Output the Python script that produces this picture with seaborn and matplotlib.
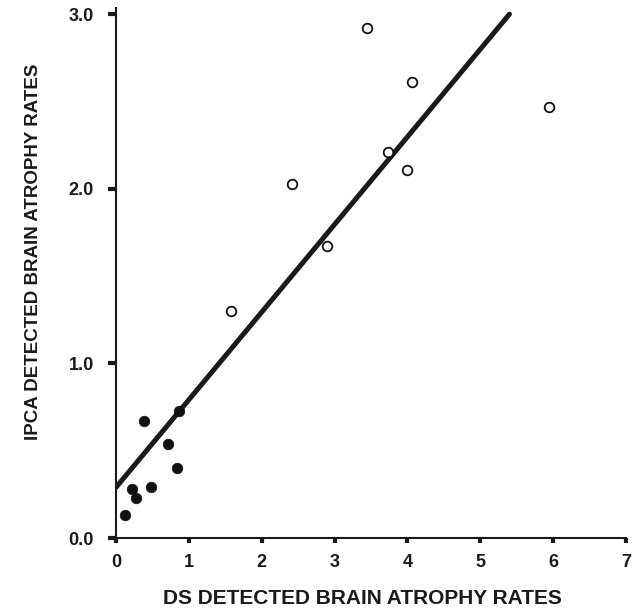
import numpy as np
import pandas as pd
import matplotlib
matplotlib.use("Agg")
import matplotlib.pyplot as plt
import seaborn as sns

# filled dots (low atrophy group)
ds_filled = [0.39, 0.86, 0.72, 0.84, 0.22, 0.27, 0.48, 0.12]
ipca_filled = [0.67, 0.73, 0.54, 0.40, 0.28, 0.23, 0.29, 0.13]

# open dots (high atrophy group)
ds_open = [3.44, 4.06, 5.94, 3.74, 3.99, 2.41, 2.89, 1.58]
ipca_open = [2.92, 2.61, 2.47, 2.21, 2.11, 2.03, 1.67, 1.30]

# regression line end points
fit_x = [0.0, 5.40]
fit_y = [0.29, 3.00]

x_ticks = [0, 1, 2, 3, 4, 5, 6, 7]
y_ticks = [0.0, 1.0, 2.0, 3.0]

sns.set_style("ticks")
plt.rcParams['font.family'] = ['Liberation Sans', 'DejaVu Sans']

fig = plt.figure(figsize=(6.43, 6.13), dpi=100)
ax = fig.add_axes([0.1804, 0.1223, 0.7932, 0.8646])

df_f = pd.DataFrame({'ds': ds_filled, 'ipca': ipca_filled})
df_o = pd.DataFrame({'ds': ds_open, 'ipca': ipca_open})

sns.lineplot(x=fit_x, y=fit_y, ax=ax, color='#1a1a1a', linewidth=3.6, zorder=2)
sns.scatterplot(data=df_f, x='ds', y='ipca', ax=ax, color='#111111', s=58,
                edgecolor='#111111', linewidth=0.5, zorder=3)
sns.scatterplot(data=df_o, x='ds', y='ipca', ax=ax, facecolor='white', s=48,
                edgecolor='#111111', linewidth=1.3, zorder=3)

ax.set_xlim(0, 7)
ax.set_ylim(0, 3.035)
ax.set_xticks(x_ticks)
ax.set_xticklabels([str(t) for t in x_ticks])
ax.set_yticks(y_ticks)
ax.set_yticklabels([f'{t:.1f}' for t in y_ticks])

sns.despine(ax=ax)
for sp in ['left', 'bottom']:
    ax.spines[sp].set_linewidth(1.5)
    ax.spines[sp].set_color('#1a1a1a')

ax.tick_params(axis='y', length=6, width=3, pad=10, labelsize=13, colors='#1a1a1a')
ax.tick_params(axis='x', length=3.5, width=3, pad=8, labelsize=13, colors='#1a1a1a')
for lbl in ax.get_xticklabels() + ax.get_yticklabels():
    lbl.set_fontweight('bold')

ax.set_xlabel('DS DETECTED BRAIN ATROPHY RATES', fontsize=15, fontweight='bold',
              color='#1a1a1a')
ax.xaxis.set_label_coords(0.484, -0.096)
ax.set_ylabel('IPCA DETECTED BRAIN ATROPHY RATES', fontsize=13.5, fontweight='bold',
              color='#1a1a1a')
ax.yaxis.set_label_coords(-0.145, 0.54)

fig.savefig('out.png', dpi=100)
